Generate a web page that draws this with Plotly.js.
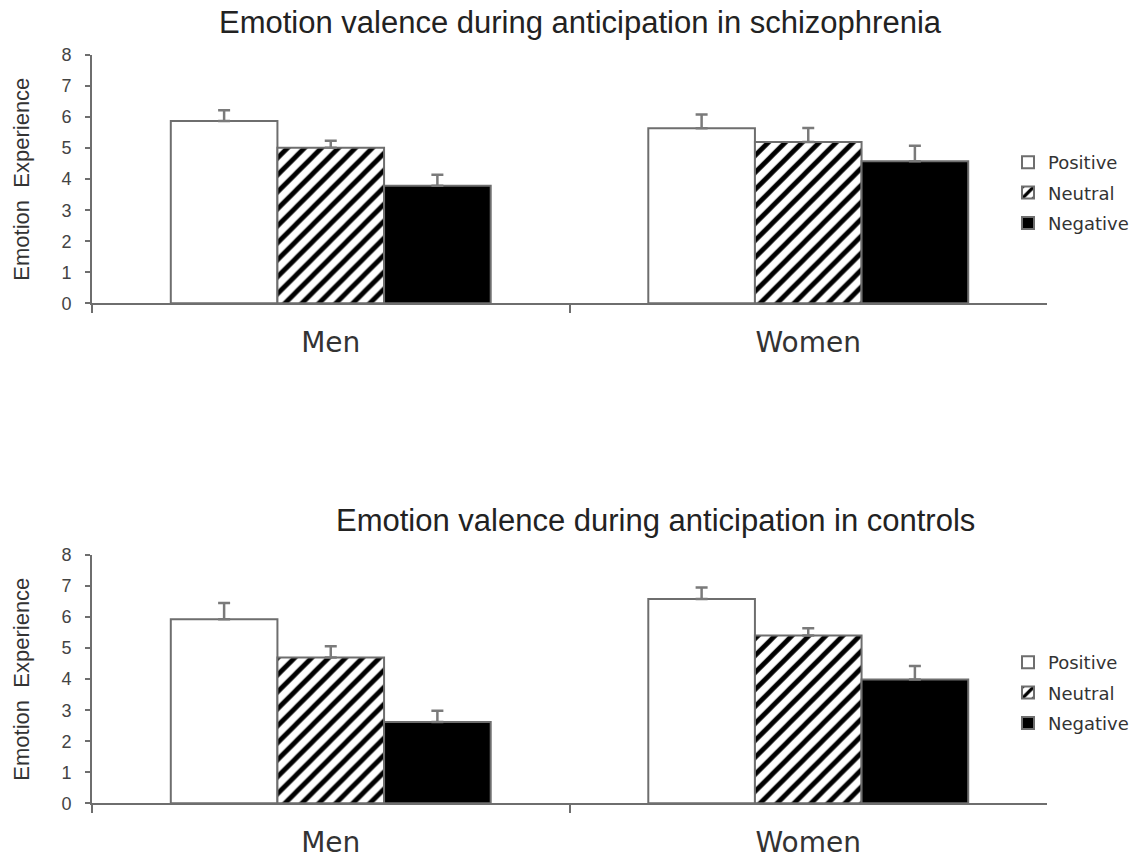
<!DOCTYPE html>
<html>
<head>
<meta charset="utf-8">
<script src="https://cdn.plot.ly/plotly-3.0.1.min.js"></script>
<style>html,body{margin:0;padding:0;background:#fff}#chart{width:1140px;height:863px}</style>
</head>
<body>
<div id="chart"></div>
<script>
// ---- data ----
const groups = ["Men", "Women"];
const seriesNames = ["Positive", "Neutral", "Negative"];
// Schizophrenia (top panel)
const schizPositive = [5.87, 5.64];
const schizNeutral  = [5.01, 5.20];
const schizNegative = [3.79, 4.58];
const schizPositiveErr = [0.35, 0.44];
const schizNeutralErr  = [0.23, 0.45];
const schizNegativeErr = [0.35, 0.50];
// Controls (bottom panel)
const ctrlPositive = [5.93, 6.58];
const ctrlNeutral  = [4.70, 5.41];
const ctrlNegative = [2.62, 3.99];
const ctrlPositiveErr = [0.52, 0.37];
const ctrlNeutralErr  = [0.36, 0.23];
const ctrlNegativeErr = [0.36, 0.43];
const yTickVals = [0, 1, 2, 3, 4, 5, 6, 7, 8];

const outline = '#6e6e6e';
const errStyle = (arr) => ({type: 'data', symmetric: false, array: arr, arrayminus: arr.map(() => 0),
  color: '#7a7a7a', thickness: 2.5, width: 6});

const styles = [
  {color: '#ffffff', line: {color: outline, width: 2}},
  {color: '#ffffff', line: {color: outline, width: 2},
   pattern: {shape: '/', fgcolor: '#000000', bgcolor: '#ffffff', size: 12, solidity: 0.4}},
  {color: '#000000', line: {color: outline, width: 2}}
];

function mk(vals, errs, i, xa, ya, leg) {
  return {type: 'bar', name: seriesNames[i], x: groups, y: vals, xaxis: xa, yaxis: ya,
    marker: styles[i], error_y: errStyle(errs), legend: leg, legendgroup: leg + i,
    hoverinfo: 'skip'};
}

const traces = [
  mk(schizPositive, schizPositiveErr, 0, 'x', 'y', 'legend'),
  mk(schizNeutral, schizNeutralErr, 1, 'x', 'y', 'legend'),
  mk(schizNegative, schizNegativeErr, 2, 'x', 'y', 'legend'),
  mk(ctrlPositive, ctrlPositiveErr, 0, 'x2', 'y2', 'legend2'),
  mk(ctrlNeutral, ctrlNeutralErr, 1, 'x2', 'y2', 'legend2'),
  mk(ctrlNegative, ctrlNegativeErr, 2, 'x2', 'y2', 'legend2')
];

const W = 1140, H = 863;
const xDom = [92 / W, 1047 / W];
const yDomTop = [1 - 303.3 / H, 1 - 55 / H];
const yDomBot = [1 - 803.3 / H, 1 - 555 / H];

const xAxisBase = {
  type: 'category', tickson: 'boundaries', showline: true, linecolor: outline, linewidth: 2,
  ticks: 'outside', ticklen: 8, tickwidth: 2, tickcolor: outline, showgrid: false, zeroline: false,
  tickfont: {family: 'DejaVu Sans', size: 28, color: '#333'}, ticklabelstandoff: 13,
  domain: xDom, fixedrange: true
};
const yAxisBase = {
  range: [0, 8], tickvals: yTickVals, showline: true, linecolor: outline, linewidth: 2,
  ticks: 'outside', ticklen: 5, tickwidth: 2, tickcolor: outline, showgrid: false, zeroline: false,
  tickfont: {family: 'Liberation Sans', size: 18, color: '#444'}, ticklabelstandoff: 10,
  title: {text: 'Emotion  Experience', font: {family: 'Liberation Sans', size: 22, color: '#333'}, standoff: 26},
  fixedrange: true
};

const legendBase = {
  x: 1008 / W, xanchor: 'left', yanchor: 'top', bgcolor: 'rgba(0,0,0,0)',
  font: {family: 'DejaVu Sans', size: 18, color: '#333'}, traceorder: 'grouped',
  tracegroupgap: 4, itemwidth: 30, itemclick: false, itemdoubleclick: false
};

const layout = {
  width: W, height: H, margin: {l: 0, r: 0, t: 0, b: 0},
  paper_bgcolor: '#fff', plot_bgcolor: 'rgba(0,0,0,0)',
  barmode: 'group', bargap: 0.33, bargroupgap: 0,
  title: {text: 'Emotion valence during anticipation in schizophrenia', x: 580 / W, xanchor: 'center',
    y: 1 - 22 / H, yanchor: 'middle', font: {family: 'Liberation Sans', size: 31, color: '#222'}},
  xaxis: Object.assign({}, xAxisBase, {anchor: 'y'}),
  yaxis: Object.assign({}, yAxisBase, {domain: yDomTop, anchor: 'x'}),
  xaxis2: Object.assign({}, xAxisBase, {anchor: 'y2'}),
  yaxis2: Object.assign({}, yAxisBase, {domain: yDomBot, anchor: 'x2'}),
  legend: Object.assign({}, legendBase, {y: 1 - 144 / H}),
  legend2: Object.assign({}, legendBase, {y: 1 - 644 / H}),
  annotations: [{
    text: 'Emotion valence during anticipation in controls', xref: 'paper', yref: 'paper',
    x: 655 / W, y: 1 - 520 / H, xanchor: 'center', yanchor: 'middle', showarrow: false,
    font: {family: 'Liberation Sans', size: 31, color: '#222'}
  }]
};

Plotly.newPlot('chart', traces, layout, {staticPlot: true, displayModeBar: false});
</script>
</body>
</html>
